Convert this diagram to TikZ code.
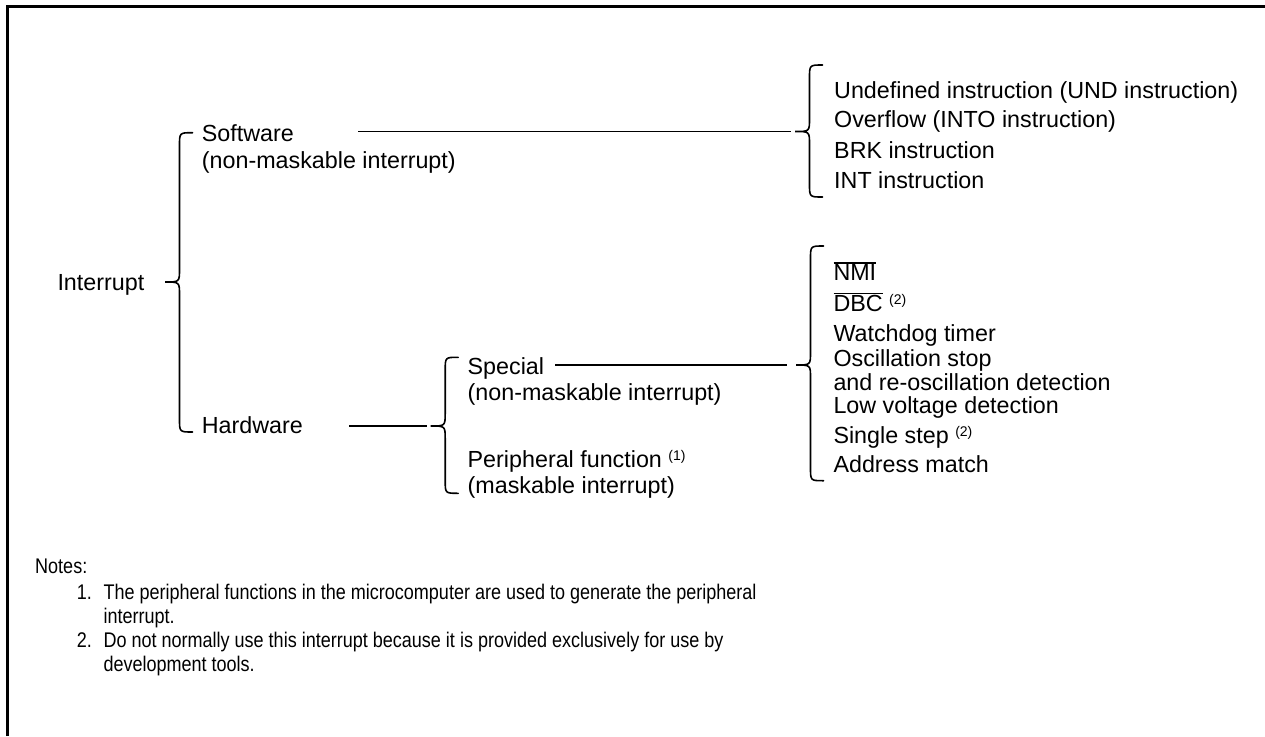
\documentclass[tikz,border=0pt]{standalone}
\usepackage{fontspec}
\setmainfont{Liberation Sans}
\newfontfamily\notefont[FakeStretch=0.85]{Liberation Sans}
\newcommand\supmark[1]{\raisebox{7.3pt}{\fontsize{14pt}{14pt}\selectfont(#1)}}
\newcommand\barsig[1]{{\setbox0\hbox{#1}\rlap{\rule[\dimexpr\ht0+1pt\relax]{\wd0}{1.5pt}}\box0}}
% curly brace: name, tip x, top y, tip y, bottom y
\newcommand\bracepath[5]{%
  \coordinate (#1) at (#2,#4);
  \draw[brace] (#2+27.5,#3) .. controls (#2+14.5,#3) .. (#2+14.5,#3+13)
    -- (#2+14.5,#4-13) .. controls (#2+14.5,#4) .. (#1)
    .. controls (#2+14.5,#4) .. (#2+14.5,#4+13)
    -- (#2+14.5,#5-13) .. controls (#2+14.5,#5) .. (#2+27.5,#5);}
\tikzset{
  lbl/.style={anchor=base west, inner sep=0pt},
  brace/.style={line width=1.6pt, line cap=round},
  link/.style={line width=1.6pt, shorten >=4pt},
  frame/.style={line width=3.3pt}
}
\begin{document}
\begin{tikzpicture}[x=1pt,y=-1pt,font=\fontsize{23.3pt}{26.8pt}\selectfont]
  \useasboundingbox (0,0) rectangle (1265,736);
  % frame
  \draw[frame] (7.5,736) -- (7.5,6.7) -- (1265,6.7);
  % root
  \node[lbl] (intr) at (57.3,290) {Interrupt};
  \bracepath{bI}{165}{132.7}{282}{432}
  \node[lbl] (sw) at (201.7,141) {Software};
  \node[lbl] (swnm) at (201.7,168) {(non-maskable interrupt)};
  \node[lbl] (hw) at (201.7,433.5) {Hardware};
  % hardware split
  \bracepath{bH}{430.7}{357.3}{426}{493.3}
  \node[lbl] (spc) at (467.5,374) {Special};
  \node[lbl] (spcnm) at (467.5,400.7) {(non-maskable interrupt)};
  \node[lbl] (per) at (467.5,467.3) {Peripheral function \supmark{1}};
  \node[lbl] (perm) at (467.5,493.3) {(maskable interrupt)};
  % software sources
  \bracepath{bS}{795}{65}{131.5}{197}
  \foreach \y/\txt [count=\i] in {98/Undefined instruction (UND instruction),
      127.5/Overflow (INTO instruction), 158/BRK instruction, 188/INT instruction}
    \node[lbl] (swsrc\i) at (834,\y) {\txt};
  % special sources
  \bracepath{bN}{796}{246}{365}{480.7}
  \foreach \y/\txt [count=\i] in {280.7/\barsig{NMI}, 311.7/\barsig{DBC} \supmark{2},
      341.7/Watchdog timer, 366.7/Oscillation stop, 390/and re-oscillation detection,
      413.3/Low voltage detection, 443.3/Single step \supmark{2}, 472.3/Address match}
    \node[lbl] (nmsrc\i) at (833.3,\y) {\txt};
  % connectors
  \coordinate (swline) at (358,131.5);
  \coordinate (hwline) at (349,426);
  \coordinate (spcline) at (555,365);
  \draw[link] (swline) -- (bS);
  \draw[link] (hwline) -- (bH);
  \draw[link, shorten >=9pt] (spcline) -- (bN);
  % notes
  \begin{scope}[font=\notefont\fontsize{21.2pt}{24pt}\selectfont]
    \node[lbl] (notes) at (35,573.5) {Notes:};
    \node[lbl] (n1) at (76.7,599.5) {1.};
    \node[lbl] (n1a) at (103.3,599.5) {The peripheral functions in the microcomputer are used to generate the peripheral};
    \node[lbl] (n1b) at (103.3,623) {interrupt.};
    \node[lbl] (n2) at (76.7,647.5) {2.};
    \node[lbl] (n2a) at (103.3,647.5) {Do not normally use this interrupt because it is provided exclusively for use by};
    \node[lbl] (n2b) at (103.3,671) {development tools.};
  \end{scope}
\end{tikzpicture}
\end{document}
